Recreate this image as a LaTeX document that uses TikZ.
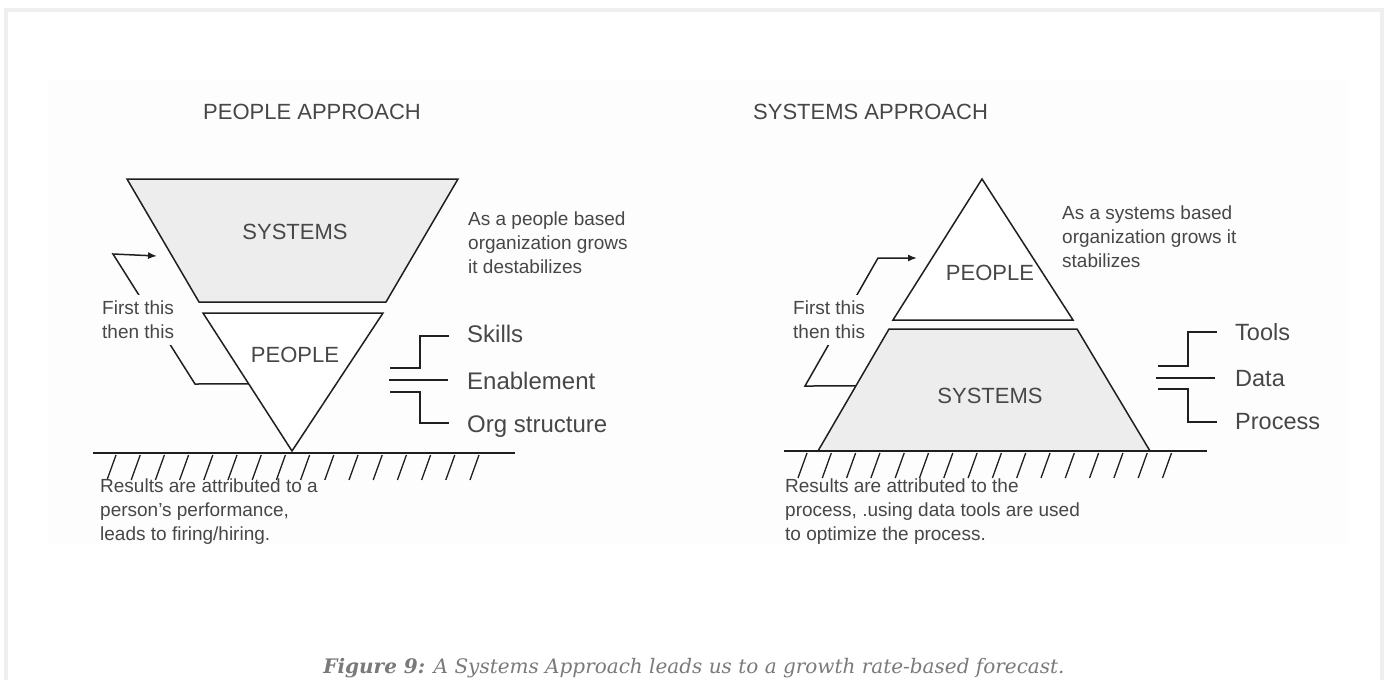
\documentclass[tikz,border=0pt]{standalone}
\usepackage{fontspec}
\setmainfont{Liberation Sans}
\newfontfamily\capfont{DejaVu Serif}
\usetikzlibrary{arrows.meta,calc}
\definecolor{ink}{HTML}{1F1F1F}
\definecolor{soft}{HTML}{474747}
\definecolor{shade}{HTML}{EDEDED}
\definecolor{frame}{HTML}{EFEFEF}
\definecolor{paper}{HTML}{FDFDFD}
\definecolor{capgray}{HTML}{7A7A7A}
\tikzset{
 block/.style={draw=ink,line width=1.5pt},
 ground/.style={draw=ink,line width=1.5pt},
 hatch/.style={draw=ink,line width=1.3pt},
 bracket/.style={draw=ink,line width=1.5pt},
 flowarrow/.style={-{Latex[length=9pt,width=7pt]},draw=ink,line width=1.5pt},
 heading/.style={font=\fontsize{22}{26}\selectfont,text=soft,inner sep=0pt,anchor=base west},
 blocktext/.style={font=\fontsize{22}{26}\selectfont,text=soft,inner sep=0pt},
 note/.style={font=\fontsize{19}{24}\selectfont,text=soft,align=left,inner sep=0pt,anchor=north west},
 item/.style={font=\fontsize{24}{28}\selectfont,text=soft,inner sep=0pt,anchor=base west},
 caption/.style={font=\capfont\itshape\fontsize{20}{24}\selectfont,text=capgray,anchor=base}
}

\begin{document}
\begin{tikzpicture}[x=1pt,y=-1pt]
  \useasboundingbox (0,0) rectangle (1387,680);
  \clip (0,0) rectangle (1387,680);
  \draw[frame,line width=4pt] (6,10) rectangle (1382,720);
  \fill[paper] (48,79) rectangle (1348,545);

  % people approach
  \coordinate (lsTL) at (127,179);
  \coordinate (lsTR) at (458,179);
  \coordinate (lsBR) at (386,302);
  \coordinate (lsBL) at (199,302);
  \coordinate (lpTL) at (203,313);
  \coordinate (lpTR) at (383,313);
  \coordinate (lpApex) at (292,451);
  \draw[block,fill=shade] (lsTL) -- (lsTR) -- (lsBR) -- (lsBL) -- cycle;
  \draw[block,fill=white] (lpTL) -- (lpTR) -- (lpApex) -- cycle;
  \node[heading] (peopleTitle) at (203,119.5) {PEOPLE APPROACH};
  \node[blocktext] (lSysText) at (295,232) {SYSTEMS};
  \node[blocktext] (lPplText) at (295,355) {PEOPLE};

  \coordinate (lStart) at ($(lpTL)!0.514!(lpApex)$);
  \coordinate (lKnee) at (195,384);
  \coordinate (lBend) at (113,254);
  \coordinate (lTip) at (157,256);
  \draw[flowarrow,line join=miter] (lStart) -- (lKnee) -- (lBend) -- (lTip);
  \node[note,fill=paper,inner sep=6pt] (lOrder) at (96,295) {First this\\then this};

  \node[note] (lGrowth) at (468,212) {As a people based\\organization grows\\it destabilizes};

  \draw[bracket] (390,368) -| (420,336) -- (449,336);
  \draw[bracket] (389,380) -- (448,380);
  \draw[bracket] (390,392) -| (420,423) -- (449,423);
  \node[item] (skills) at (467,342) {Skills};
  \node[item] (enable) at (467,389) {Enablement};
  \node[item] (orgstruct) at (467,432) {Org structure};

  \coordinate (lgL) at (93,453);
  \coordinate (lgR) at (515,453);
  \draw[ground] (lgL) -- (lgR);
  \foreach \i in {0,...,15}
    \draw[hatch] ({107+24.2*\i},480) -- ++(9,-25);
  \node[note] (lResult) at (100,479) {Results are attributed to a\\person's performance,\\leads to firing/hiring.};

  % systems approach
  \coordinate (rpApex) at (982,179);
  \coordinate (rpBL) at (893,320);
  \coordinate (rpBR) at (1073,320);
  \coordinate (rsTL) at (889,329);
  \coordinate (rsTR) at (1077,329);
  \coordinate (rsBR) at (1150,451);
  \coordinate (rsBL) at (818,451);
  \draw[block,fill=shade] (rsTL) -- (rsTR) -- (rsBR) -- (rsBL) -- cycle;
  \draw[block,fill=white] (rpApex) -- (rpBR) -- (rpBL) -- cycle;
  \node[heading] (systemsTitle) at (753,119.5) {SYSTEMS APPROACH};
  \node[blocktext] (rPplText) at (990,273) {PEOPLE};
  \node[blocktext] (rSysText) at (990,396) {SYSTEMS};

  \coordinate (rStart) at ($(rsTL)!0.467!(rsBL)$);
  \coordinate (rKnee) at (805,386);
  \coordinate (rBend) at (878,258);
  \coordinate (rTip) at (917,258);
  \draw[flowarrow,line join=miter] (rStart) -- (rKnee) -- (rBend) -- (rTip);
  \node[note,fill=paper,inner sep=6pt] (rOrder) at (787,295) {First this\\then this};

  \node[note] (rGrowth) at (1062,206) {As a systems based\\organization grows it\\stabilizes};

  \draw[bracket] (1158,366) -| (1188,332) -- (1217,332);
  \draw[bracket] (1156,378) -- (1215,378);
  \draw[bracket] (1158,389) -| (1188,422) -- (1217,422);
  \node[item,font=\fontsize{23.5}{28}\selectfont] (tools) at (1235,340) {Tools};
  \node[item,font=\fontsize{23.5}{28}\selectfont] (data) at (1235,386) {Data};
  \node[item,font=\fontsize{23.5}{28}\selectfont] (process) at (1235,429) {Process};

  \coordinate (rgL) at (784,451);
  \coordinate (rgR) at (1207,451);
  \draw[ground] (rgL) -- (rgR);
  \foreach \i in {0,...,15}
    \draw[hatch] ({798+24.3*\i},478) -- ++(9,-25);
  \node[note] (rResult) at (785,479) {Results are attributed to the\\process, .using data tools are used\\to optimize the process.};

  \node[caption] (figcap) at (694,673) {\textbf{Figure 9:} A Systems Approach leads us to a growth rate-based forecast.};
\end{tikzpicture}
\end{document}
